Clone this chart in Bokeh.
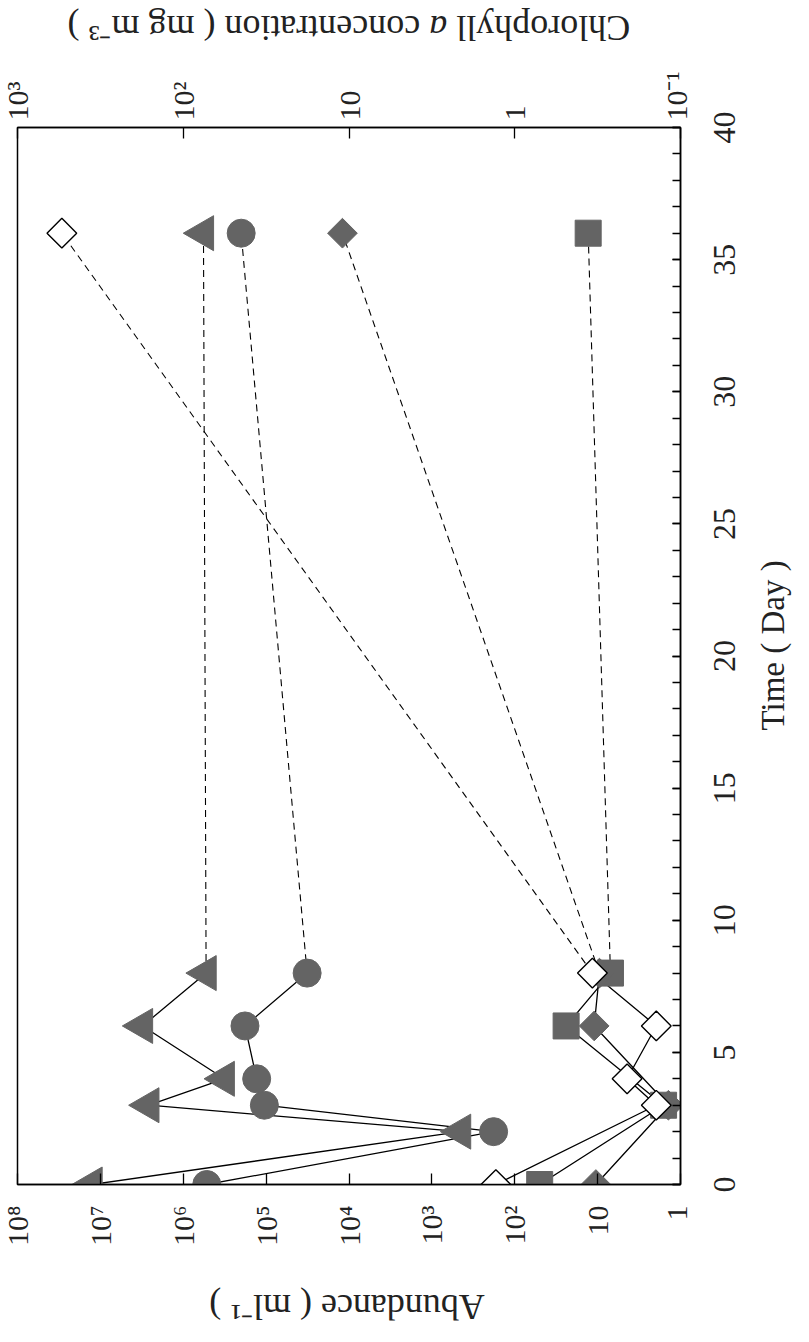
import math
from bokeh.plotting import figure
from bokeh.layouts import column, row
from bokeh.models import (Range1d, LogAxis, LogScale, FixedTicker, SingleIntervalTicker,
                          CustomJSTickFormatter)
from bokeh.core.properties import value
from bokeh.embed import file_html
from bokeh.resources import INLINE

# ---------------- data ----------------
days_main = [0, 2, 3, 4, 6, 8]
day_late = [8, 36]

# triangles (abundance, ml-1)
tri_main = [1.26e7, 4.5e2, 2.6e6, 3.2e5, 3.1e6, 5.3e5]
tri_late = [5.3e5, 5.7e5]
# circles (abundance, ml-1)
cir_main = [5.2e5, 1.8e2, 1.05e5, 1.3e5, 1.8e5, 3.2e4]
cir_late = [3.2e4, 2.0e5]

# filled squares (abundance, ml-1)
sq_days = [0, 3, 6, 8]
sq_main = [50, 1.6, 24, 7.0]
sq_late = [7.0, 13]
# filled diamonds (abundance, ml-1)
fd_days = [0, 3, 6, 8]
fd_main = [10.5, 1.4, 11, 9.5]
fd_late = [9.5, 1.2e4]
# open diamonds (chlorophyll a, mg m-3)
od_days = [0, 3, 4, 6, 8]
od_main = [1.3, 0.14, 0.21, 0.14, 0.34]
od_late = [0.34, 540]

abund_ticks = [1, 10, 1e2, 1e3, 1e4, 1e5, 1e6, 1e7, 1e8]
abund_labels = ["1", "10", "10²", "10³", "10⁴", "10⁵", "10⁶", "10⁷", "10⁸"]
chl_ticks = [0.1, 1, 10, 1e2, 1e3]
chl_labels = ["10⁻¹", "1", "10", "10²", "10³"]
time_ticks = [0, 5, 10, 15, 20, 25, 30, 35, 40]

abund_title = "Abundance ( ml⁻¹ )"
chl_title_parts = ["Chlorophyll", "a", "concentration ( mg m⁻³ )"]
time_title = "Time ( Day )"

FONT = "Liberation Serif"
GRAY = "#646464"
TXT = "#222222"

# ---------------- layout sizes ----------------
TOTAL_W = 793
TOP_H, MAIN_H, BOT_H = 62, 1198, 66
MAIN_W = 692
BT, BB = 65, 76            # main top / bottom borders
STRIP_W = TOTAL_W - MAIN_W


def strip(w, h, **kw):
    f = figure(width=w, height=h, x_range=Range1d(0, w), y_range=Range1d(0, h),
               toolbar_location=None, output_backend="svg",
               x_axis_location=None, y_axis_location=None, **kw)
    f.outline_line_color = None
    f.grid.visible = False
    f.background_fill_color = "white"
    f.border_fill_color = "white"
    return f


# ---------------- main plot ----------------
p = figure(width=MAIN_W, height=MAIN_H, x_axis_type="log",
           x_range=Range1d(1e8, 1), y_range=Range1d(0, 40),
           x_axis_location="below", y_axis_location="right",
           output_backend="svg", toolbar_location=None,
           min_border_left=17, min_border_right=MAIN_W - 17 - 663,
           min_border_top=BT, min_border_bottom=BB)
p.extra_x_ranges = {"chl": Range1d(1e3, 1e-1)}
p.extra_x_scales = {"chl": LogScale()}

p.grid.visible = False
p.outline_line_color = "black"
p.outline_line_width = 1.5
p.background_fill_color = "white"
p.border_fill_color = "white"

fmt_code = """
let best = 0, bd = Infinity;
for (let i = 0; i < vals.length; i++) {
  const d = Math.abs(Math.log10(vals[i]) - Math.log10(tick));
  if (d < bd) { bd = d; best = i; }
}
return labs[best];
"""

xa = p.xaxis[0]
xa.ticker = FixedTicker(ticks=abund_ticks)
xa.formatter = CustomJSTickFormatter(args=dict(vals=abund_ticks, labs=abund_labels), code=fmt_code)

ca = LogAxis(x_range_name="chl", ticker=FixedTicker(ticks=chl_ticks),
             formatter=CustomJSTickFormatter(args=dict(vals=chl_ticks, labs=chl_labels), code=fmt_code))
p.add_layout(ca, "above")

ya = p.yaxis[0]
ya.ticker = SingleIntervalTicker(interval=5, num_minor_ticks=5)
ya.formatter = CustomJSTickFormatter(code="return ''")
ya.major_label_text_font_size = "0px"
ya.major_label_standoff = 0

for ax in (xa, ca):
    ax.major_tick_in = 11
    ax.major_tick_out = 0
    ax.minor_tick_in = 0
    ax.minor_tick_out = 0
    ax.major_label_orientation = math.pi / 2
    ax.major_label_text_font_size = "30px"
xa.major_label_standoff = 21
ca.major_label_standoff = 7

ya.major_tick_in = 8
ya.major_tick_out = 0
ya.minor_tick_in = 8
ya.minor_tick_out = 0

for ax in (xa, ca, ya):
    ax.axis_line_color = "black"
    ax.axis_line_width = 1.5
    ax.major_tick_line_color = "black"
    ax.major_tick_line_width = 1.3
    ax.minor_tick_line_color = "black"
    ax.minor_tick_line_width = 1.3
    ax.major_label_text_font = FONT
    ax.major_label_text_color = TXT

# lines
LW = 1.3
DASH = "7 5"
p.line(tri_main, days_main, line_color="black", line_width=LW)
p.line(tri_late, day_late, line_color="black", line_width=1.1, line_dash=DASH)
p.line(cir_main, days_main, line_color="black", line_width=LW)
p.line(cir_late, day_late, line_color="black", line_width=1.1, line_dash=DASH)
p.line(sq_main, sq_days, line_color="black", line_width=LW)
p.line(sq_late, day_late, line_color="black", line_width=1.1, line_dash=DASH)
p.line(fd_main, fd_days, line_color="black", line_width=LW)
p.line(fd_late, day_late, line_color="black", line_width=1.1, line_dash=DASH)
p.line(od_main, od_days, line_color="black", line_width=LW, x_range_name="chl")
p.line(od_late, day_late, line_color="black", line_width=1.1, line_dash=DASH, x_range_name="chl")

# markers
all_days = days_main + day_late[1:]
p.scatter(tri_main + tri_late[1:], all_days, marker="triangle", size=35, angle=math.pi / 2,
          fill_color=GRAY, line_color=GRAY, line_width=1)
p.scatter(cir_main + cir_late[1:], all_days, marker="circle", size=28,
          fill_color=GRAY, line_color=GRAY, line_width=1)
p.scatter(sq_main + sq_late[1:], sq_days + day_late[1:], marker="square", size=26,
          fill_color=GRAY, line_color=GRAY, line_width=1)
p.scatter(fd_main + fd_late[1:], fd_days + day_late[1:], marker="square", size=21,
          angle=math.pi / 4, fill_color=GRAY, line_color=GRAY, line_width=1)
p.scatter(od_main + od_late[1:], od_days + day_late[1:], marker="square", size=21,
          angle=math.pi / 4, fill_color="white", line_color="black", line_width=1.4,
          x_range_name="chl")

# ---------------- right strip: time tick labels (left axis, reads upward) + title ----------------
SL = 60  # strip left border
rs = figure(width=STRIP_W, height=MAIN_H, x_range=Range1d(0, STRIP_W - SL), y_range=Range1d(0, 40),
            toolbar_location=None, output_backend="svg",
            x_axis_location=None, y_axis_location="left",
            min_border_left=SL, min_border_right=0, min_border_top=BT, min_border_bottom=BB)
rs.outline_line_color = None
rs.grid.visible = False
rs.background_fill_color = "white"
rs.border_fill_color = "white"
ta = rs.yaxis[0]
ta.ticker = FixedTicker(ticks=time_ticks)
ta.major_label_orientation = "parallel"
ta.major_label_standoff = 18
ta.major_label_text_font = FONT
ta.major_label_text_font_size = "32px"
ta.major_label_text_color = TXT
ta.axis_line_color = None
ta.major_tick_line_color = None
ta.minor_tick_line_color = None
ta.major_tick_in = 0
ta.major_tick_out = 0
ta.minor_tick_in = 0
ta.minor_tick_out = 0
rs.text(x=[20.5], y=[20.4], text=[time_title], angle=math.pi / 2,
        text_align="center", text_baseline="middle",
        text_font=value(FONT), text_font_size=value("33px"), text_color=TXT)

# ---------------- top strip: chlorophyll title (upside down) ----------------
ts = strip(TOTAL_W, TOP_H, min_border=0)
FS = 36
w1 = 4.834 * FS      # "Chlorophyll"
wsp = 0.25 * FS
wa = 0.5 * FS        # italic "a"
w3 = 9.795 * FS      # "concentration ( mg m-3 )"
total = w1 + wsp + wa + wsp + w3
cx = 348.5
start = cx + total / 2
cy = TOP_H - 27.5
anchors = [start, start - w1 - wsp, start - w1 - wsp - wa - wsp]
styles = ["normal", "italic", "normal"]
for txt, ax_, st in zip(chl_title_parts, anchors, styles):
    ts.text(x=[ax_], y=[cy], text=[txt], angle=math.pi,
            text_align="left", text_baseline="middle",
            text_font=value(FONT), text_font_size=value(f"{FS}px"),
            text_font_style=st, text_color=TXT)

# ---------------- bottom strip: abundance title (upside down) ----------------
bs = strip(TOTAL_W, BOT_H, min_border=0)
bs.text(x=[346.5], y=[BOT_H - 46], text=[abund_title], angle=math.pi,
        text_align="center", text_baseline="middle",
        text_font=value(FONT), text_font_size=value("36px"), text_color=TXT)

layout = column(ts, row(p, rs, spacing=0), bs, spacing=0)
open("out.html", "w").write(file_html(layout, INLINE))
